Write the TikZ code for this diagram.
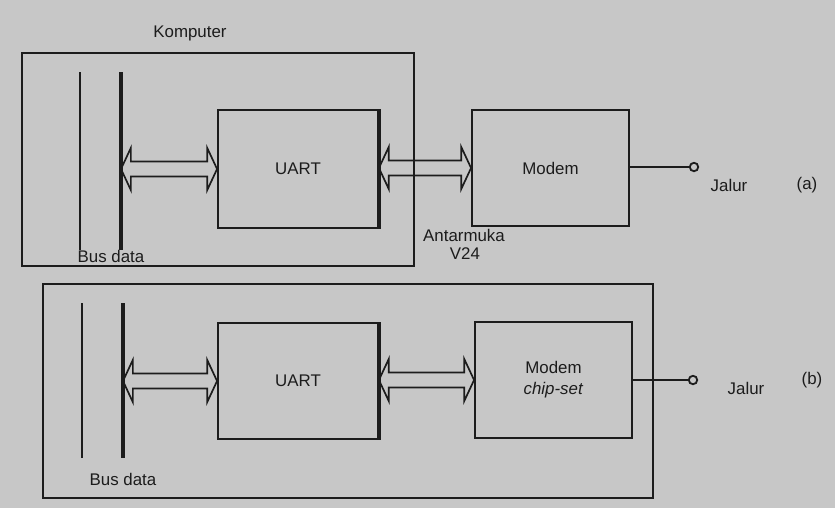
\documentclass[tikz,border=0pt]{standalone}
\usepackage{fontspec}
\setmainfont{Liberation Sans}
\usetikzlibrary{calc}
\definecolor{paper}{RGB}{199,199,199}
\definecolor{ink}{RGB}{28,28,28}

\newcommand{\blockarrow}[2]{%
  \draw[dblarr] let \p1=(#1), \p2=(#2) in
    (\x1,\y2) -- (\x1+7pt,\y2+15pt) -- (\x1+7pt,\y2+5.3pt) -- (\x2-7pt,\y2+5.3pt)
    -- (\x2-7pt,\y2+15pt) -- (\x2,\y2) -- (\x2-7pt,\y2-15pt) -- (\x2-7pt,\y2-5.3pt)
    -- (\x1+7pt,\y2-5.3pt) -- (\x1+7pt,\y2-15pt) -- cycle;}

\begin{document}
\begin{tikzpicture}[x=0.025cm, y=-0.025cm,
  box/.style={draw=ink, line width=1.3pt, minimum width=4cm, minimum height=2.95cm, inner sep=0pt, align=center, text=ink, font=\fontsize{12}{15}\selectfont},
  frame/.style={draw=ink, line width=1.4pt},
  thinbus/.style={draw=ink, line width=1.4pt},
  thickbus/.style={draw=ink, line width=2.6pt},
  dblarr/.style={draw=ink, line width=1.2pt, line join=miter},
  wire/.style={draw=ink, line width=1.2pt},
  jack/.style={circle, draw=ink, line width=1.3pt, minimum size=6pt, inner sep=0pt},
  lbl/.style={font=\fontsize{12}{14}\selectfont, text=ink, inner sep=1pt}]
\fill[paper] (0,0) rectangle (835,508);
\useasboundingbox (0,0) rectangle (835,508);

% (a) modem luar
\node[box] (uartA) at (298,169) {UART};
\node[box, minimum width=3.925cm, minimum height=2.9cm] (modemA) at (550.5,168) {Modem};
\node[jack] (jackA) at (694,167) {};
\node[lbl] (jalurA) at (729,185) {Jalur};
\node[lbl] (capA) at (807,185) {(a)};
\node[lbl] (komp) at (190,33) {Komputer};
\node[lbl] (antar) at (464,235) {Antarmuka};
\node[lbl] (v24) at (465,254) {V24};
\node[lbl] (busdataA) at (111,256) {Bus data};
\coordinate (compA1) at (22,53);
\coordinate (compA2) at (414,266);
\coordinate (busAt) at (80,72);
\coordinate (busAb) at (80,250);
\coordinate (busBt) at (121,72);
\coordinate (busBb) at (121,250);
\draw[thinbus] (busAt) -- (busAb);
\draw[thickbus] (busBt) -- (busBb);
\blockarrow{busBt |- uartA.west}{uartA.west}
\blockarrow{uartA.east}{modemA.west}
\draw[line width=2.4pt, ink] (uartA.north east) -- (uartA.south east);
\draw[wire] (modemA.east |- jackA) -- (jackA.west);
\draw[frame] (compA1) rectangle (compA2);

% (b) modem chip-set
\node[box, minimum height=2.9cm] (uartB) at (298,381) {UART};
\node[box, minimum width=3.925cm, minimum height=2.9cm] (modemB) at (553.5,380) {Modem\\\textit{chip-set}};
\node[jack] (jackB) at (693,380) {};
\node[lbl] (jalurB) at (746,388) {Jalur};
\node[lbl] (capB) at (812,380) {(b)};
\node[lbl] (busdataB) at (123,479) {Bus data};
\coordinate (compB1) at (43,284);
\coordinate (compB2) at (653,498);
\coordinate (busCt) at (82,303);
\coordinate (busCb) at (82,458);
\coordinate (busDt) at (123,303);
\coordinate (busDb) at (123,458);
\draw[thinbus] (busCt) -- (busCb);
\draw[thickbus] (busDt) -- (busDb);
\blockarrow{busDt |- uartB.west}{uartB.west}
\blockarrow{uartB.east}{modemB.west}
\draw[line width=2.4pt, ink] (uartB.north east) -- (uartB.south east);
\draw[wire] (modemB.east |- jackB) -- (jackB.west);
\draw[frame] (compB1) rectangle (compB2);
\end{tikzpicture}
\end{document}
